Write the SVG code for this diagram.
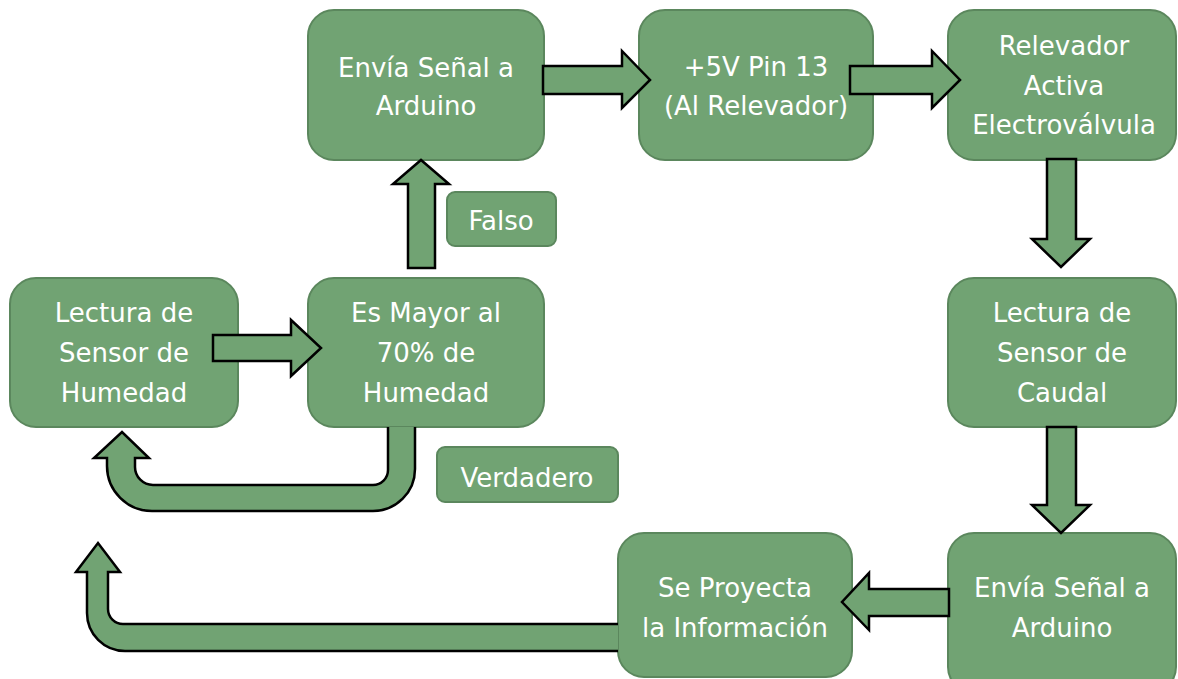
<svg xmlns="http://www.w3.org/2000/svg" width="1178" height="679" viewBox="0 0 1178 679">
<style>
.node{fill:#71a373;stroke:#5b875d;stroke-width:2}
.lbl{fill:#71a373;stroke:#5b875d;stroke-width:2}
.t{font-family:"DejaVu Sans","Liberation Sans",sans-serif;font-size:26px;fill:#ffffff;text-anchor:middle}
.arr{fill:#71a373;stroke:#000000;stroke-width:2.5;stroke-linejoin:miter}
</style>
<rect width="1178" height="679" fill="#ffffff"/>
<g id="n1"><rect class="node" x="10" y="278" width="228" height="149" rx="26"/>
<text class="t" x="124" y="322">Lectura de</text><text class="t" x="124" y="362">Sensor de</text><text class="t" x="124" y="402">Humedad</text></g>
<g id="n2"><rect class="node" x="308" y="278" width="236" height="149" rx="26"/>
<text class="t" x="426" y="322">Es Mayor al</text><text class="t" x="426" y="362">70% de</text><text class="t" x="426" y="402">Humedad</text></g>
<g id="n3"><rect class="node" x="308" y="10" width="236" height="150" rx="26"/>
<text class="t" x="426" y="77">Envía Señal a</text><text class="t" x="426" y="115">Arduino</text></g>
<g id="n4"><rect class="node" x="639" y="10" width="234" height="150" rx="26"/>
<text class="t" x="756" y="76">+5V Pin 13</text><text class="t" x="756" y="115">(Al Relevador)</text></g>
<g id="n5"><rect class="node" x="948" y="10" width="228" height="150" rx="26"/>
<text class="t" x="1064" y="55">Relevador</text><text class="t" x="1064" y="95">Activa</text><text class="t" x="1064" y="134">Electroválvula</text></g>
<g id="n6"><rect class="node" x="948" y="278" width="228" height="149" rx="26"/>
<text class="t" x="1062" y="322">Lectura de</text><text class="t" x="1062" y="362">Sensor de</text><text class="t" x="1062" y="402">Caudal</text></g>
<g id="n7"><rect class="node" x="948" y="533" width="228" height="160" rx="26"/>
<text class="t" x="1062" y="597">Envía Señal a</text><text class="t" x="1062" y="637">Arduino</text></g>
<g id="n8"><rect class="node" x="618" y="533" width="234" height="144" rx="26"/>
<text class="t" x="735" y="597">Se Proyecta</text><text class="t" x="735" y="637">la Información</text></g>
<g id="falso"><rect class="lbl" x="447" y="192" width="109" height="54" rx="8"/>
<text class="t" x="501" y="230">Falso</text></g>
<g id="verdadero"><rect class="lbl" x="437" y="447" width="181" height="55" rx="8"/>
<text class="t" x="527" y="487">Verdadero</text></g>
<g id="connectors">
<polygon class="arr" points="213,335 291,335 291,320 321,348 291,376 291,361 213,361"/>
<polygon class="arr" points="408,268 408,184 393,184 421,160 449,184 435,184 435,268"/>
<polygon class="arr" points="543,66 622,66 622,51 650,80 622,108 622,94 543,94"/>
<polygon class="arr" points="850,66 932,66 932,51 960,80 932,108 932,94 850,94"/>
<polygon class="arr" points="1047,159 1076,159 1076,239 1090,239 1061,267 1032,239 1047,239"/>
<polygon class="arr" points="1047,427 1076,427 1076,505 1090,505 1061,533 1032,505 1047,505"/>
<polygon class="arr" points="949,589 869,589 869,573 842,602 869,630 869,616 949,616"/>
<path class="arr" d="M388,427 L388,470 A15,15 0 0 1 373,485 L153,485 A18,18 0 0 1 135,467 L135,458 L149,458 L122,432 L94,458 L107,458 L107,466 A45,45 0 0 0 152,511 L373,511 A42,42 0 0 0 415,469 L415,427"/>
<path class="arr" d="M618,624 L123,624 A15,15 0 0 1 108,609 L108,572 L120,572 L98,543 L76,572 L87,572 L87,613 A38,38 0 0 0 125,651 L618,651"/>
</g>
</svg>
